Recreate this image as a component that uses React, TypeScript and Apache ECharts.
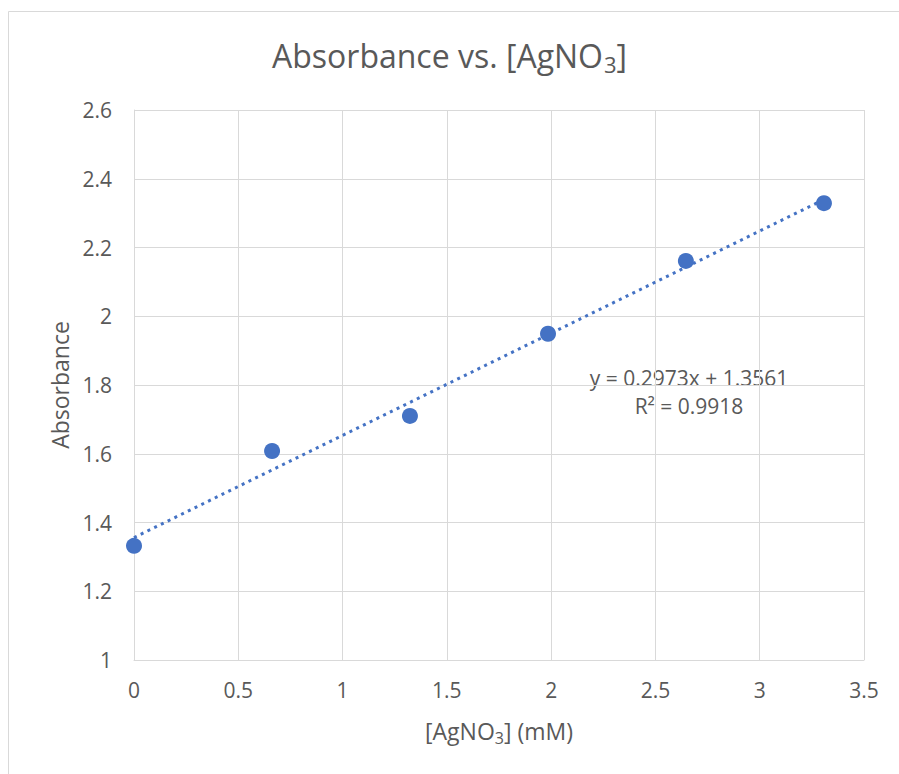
import React, { useEffect, useRef } from "react";
import * as echarts from "echarts";

const concentrations = [0, 0.662, 1.323, 1.985, 2.646, 3.308];
const absorbances = [1.332, 1.608, 1.71, 1.949, 2.161, 2.329];
const slope = 0.2973;
const intercept = 1.3561;
const rSquared = 0.9918;
const trendX = [0, 3.308];

const FONT = "'Open Sans', 'Liberation Sans', sans-serif";
const GRAY = "#595959";
const BLUE = "#4472C4";

export default function App() {
  const ref = useRef<HTMLDivElement>(null);
  useEffect(() => {
    document.body.style.margin = "0";
    const chart = echarts.init(ref.current!, null, { renderer: "svg" });
    const points = concentrations.map((x, i) => [x, absorbances[i]]);
    const trend = trendX.map((x) => [x, slope * x + intercept]);
    chart.setOption({
      animation: false,
      backgroundColor: "#ffffff",
      textStyle: { fontFamily: FONT },
      title: {
        text: "Absorbance vs. [AgNO{sub|3}]",
        left: "center",
        top: 35,
        padding: 0,
        textStyle: {
          fontFamily: FONT,
          fontSize: 32,
          fontWeight: "normal",
          color: GRAY,
          lineHeight: 40,
          rich: {
            sub: { fontSize: 22, color: GRAY, fontFamily: FONT, lineHeight: 40, verticalAlign: "bottom", padding: [17, 0, 0, 1] },
          },
        },
      },
      grid: { left: 134, right: 35, top: 110, bottom: 114, containLabel: false },
      xAxis: {
        type: "value",
        min: 0,
        max: 3.5,
        interval: 0.5,
        name: "[AgNO{sub|3}] (mM)",
        nameLocation: "middle",
        nameGap: 56,
        nameTextStyle: {
          fontFamily: FONT,
          fontSize: 23,
          color: GRAY,
          lineHeight: 30,
          rich: {
            sub: { fontSize: 16, color: GRAY, fontFamily: FONT, lineHeight: 30, verticalAlign: "bottom", padding: [12, 0, 0, 0] },
          },
        },
        axisLine: { show: true, lineStyle: { color: "#d9d9d9", width: 1 } },
        axisTick: { show: false },
        axisLabel: { color: GRAY, fontSize: 21, fontFamily: FONT, margin: 19 },
        splitLine: { show: true, lineStyle: { color: "#d9d9d9", width: 1 } },
      },
      yAxis: {
        type: "value",
        min: 1,
        max: 2.6,
        interval: 0.2,
        name: "Absorbance",
        nameLocation: "middle",
        nameRotate: 90,
        nameGap: 63,
        nameTextStyle: { fontFamily: FONT, fontSize: 23, color: GRAY },
        axisLine: { show: true, lineStyle: { color: "#d9d9d9", width: 1 } },
        axisTick: { show: false },
        axisLabel: {
          color: GRAY,
          fontSize: 21,
          fontFamily: FONT,
          margin: 22,
          formatter: (v: number) => String(Math.round(v * 10) / 10),
        },
        splitLine: { show: true, lineStyle: { color: "#d9d9d9", width: 1 } },
      },
      graphic: [
        {
          type: "rect",
          silent: true,
          shape: { x: 8.5, y: 11.5, width: 900, height: 800 },
          style: { fill: "none", stroke: "#d9d9d9", lineWidth: 1 },
        },
        {
          type: "text",
          x: 689,
          y: 378,
          style: {
            text: `y = ${slope}x + ${intercept}`,
            font: `21px ${FONT}`,
            fill: GRAY,
            textAlign: "center",
            textVerticalAlign: "middle",
          },
        },
        {
          type: "text",
          x: 689,
          y: 406,
          style: {
            text: `R² = ${rSquared}`,
            font: `21px ${FONT}`,
            fill: GRAY,
            textAlign: "center",
            textVerticalAlign: "middle",
          },
        },
      ],
      series: [
        {
          type: "line",
          data: trend,
          showSymbol: false,
          symbol: "none",
          lineStyle: { color: BLUE, width: 3, type: [3, 4.5] },
          z: 2,
        },
        {
          type: "scatter",
          data: points,
          symbol: "circle",
          symbolSize: 16,
          itemStyle: { color: BLUE, opacity: 1 },
          z: 3,
        },
      ],
    });
    return () => chart.dispose();
  }, []);
  return <div ref={ref} style={{ width: 899, height: 774 }} />;
}
